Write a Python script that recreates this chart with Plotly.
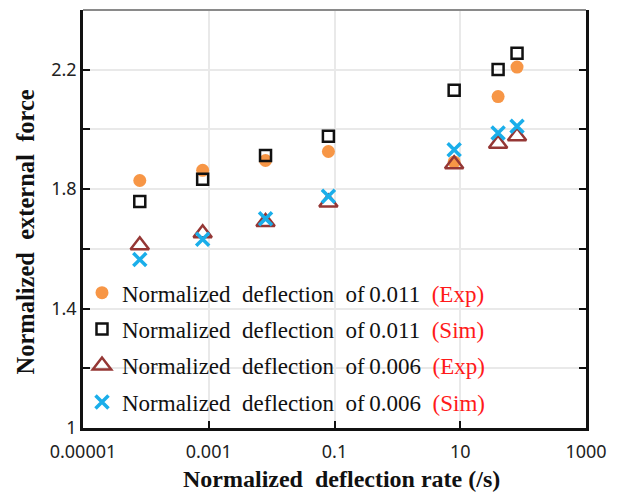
import plotly.graph_objects as go

# Data
rate = [8e-5, 8e-4, 8e-3, 8e-2, 8, 40, 80]
exp_011 = [1.829, 1.863, 1.896, 1.926, 1.891, 2.110, 2.209]
sim_011 = [1.759, 1.833, 1.913, 1.977, 2.131, 2.201, 2.255]
exp_006 = [1.612, 1.652, 1.690, 1.755, 1.883, 1.952, 1.977]
sim_006 = [1.564, 1.632, 1.701, 1.776, 1.932, 1.988, 2.011]

x_tickvals = [1e-5, 1e-3, 1e-1, 10, 1000]
x_ticktext = ["0.00001", "0.001", "0.1", "10", "1000"]
y_tickvals = [1.0, 1.2, 1.4, 1.6, 1.8, 2.0, 2.2]
y_ticktext = ["1", "", "1.4", "", "1.8", "", "2.2"]

NB = "\u00a0"


def label(val, kind):
    return ("Normalized" + NB + " deflection" + NB + " of\u2009" + val + NB + " "
            + "<span style='color:#ff1a1a'>(" + kind + ")</span>")


fig = go.Figure()
fig.add_trace(go.Scatter(x=rate, y=exp_011, mode="markers", name=label("0.011", "Exp"),
                         legendgroup="a",
                         marker=dict(symbol="circle", size=13, color="#f79646", line=dict(width=0))))
fig.add_trace(go.Scatter(x=rate, y=sim_011, mode="markers", name=label("0.011", "Sim"),
                         legendgroup="b",
                         marker=dict(symbol="square-open", size=11, color="#111111", line=dict(width=2.5))))
fig.add_trace(go.Scatter(x=rate, y=exp_006, mode="markers", name=label("0.006", "Exp"),
                         legendgroup="c",
                         marker=dict(symbol="triangle-up-open", size=16, color="#953735", line=dict(width=2.5))))
fig.add_trace(go.Scatter(x=rate, y=sim_006, mode="markers", name=label("0.006", "Sim"),
                         legendgroup="d",
                         marker=dict(symbol="x-thin-open", size=13, color="#1aaeea", line=dict(width=3.5))))

fig.update_layout(
    width=622, height=495,
    margin=dict(l=82.5, r=36, t=9.5, b=67.2),
    paper_bgcolor="white", plot_bgcolor="white",
    showlegend=True,
    legend=dict(x=-0.002, y=0.375, xanchor="left", yanchor="top",
                bgcolor="rgba(0,0,0,0)", borderwidth=0,
                font=dict(family="Liberation Serif", size=23, color="#111111"),
                tracegroupgap=3.5),
    xaxis=dict(type="log", range=[-5, 3], automargin=False,
               tickvals=x_tickvals, ticktext=x_ticktext,
               showgrid=True, gridcolor="#e9e9e9", gridwidth=1.5,
               showline=True, linecolor="#111111", linewidth=2.5, mirror=False,
               ticks="inside", ticklen=7, tickwidth=2, tickcolor="#111111",
               ticklabelstandoff=6,
               tickfont=dict(family="Noto Sans", size=18, color="#222222"),
               zeroline=False),
    yaxis=dict(range=[1.0, 2.4], automargin=False,
               tickvals=y_tickvals, ticktext=y_ticktext,
               showgrid=True, gridcolor="#e9e9e9", gridwidth=1.5,
               showline=True, linecolor="#111111", linewidth=2.5, mirror="ticks",
               ticks="inside", ticklen=7, tickwidth=2, tickcolor="#111111",
               tickfont=dict(family="Noto Sans", size=18, color="#222222"),
               zeroline=False),
    shapes=[dict(type="line", xref="paper", yref="paper", x0=0, x1=1, y0=1, y1=1,
                 line=dict(color="#8a8a8a", width=2))],
    annotations=[
        dict(text="<b>Normalized" + NB + " external" + NB + " force</b>",
             textangle=-90, xref="paper", yref="paper",
             x=-0.115, y=0.468, xanchor="center", yanchor="middle",
             showarrow=False,
             font=dict(family="Liberation Serif", size=24.5, color="#111111")),
        dict(text="<b>Normalized" + NB + " deflection rate (/s)</b>",
             xref="paper", yref="paper",
             x=0.513, y=-0.1224, xanchor="center", yanchor="middle",
             showarrow=False,
             font=dict(family="Liberation Serif", size=24, color="#111111")),
    ],
)

fig.write_html("out.html")
